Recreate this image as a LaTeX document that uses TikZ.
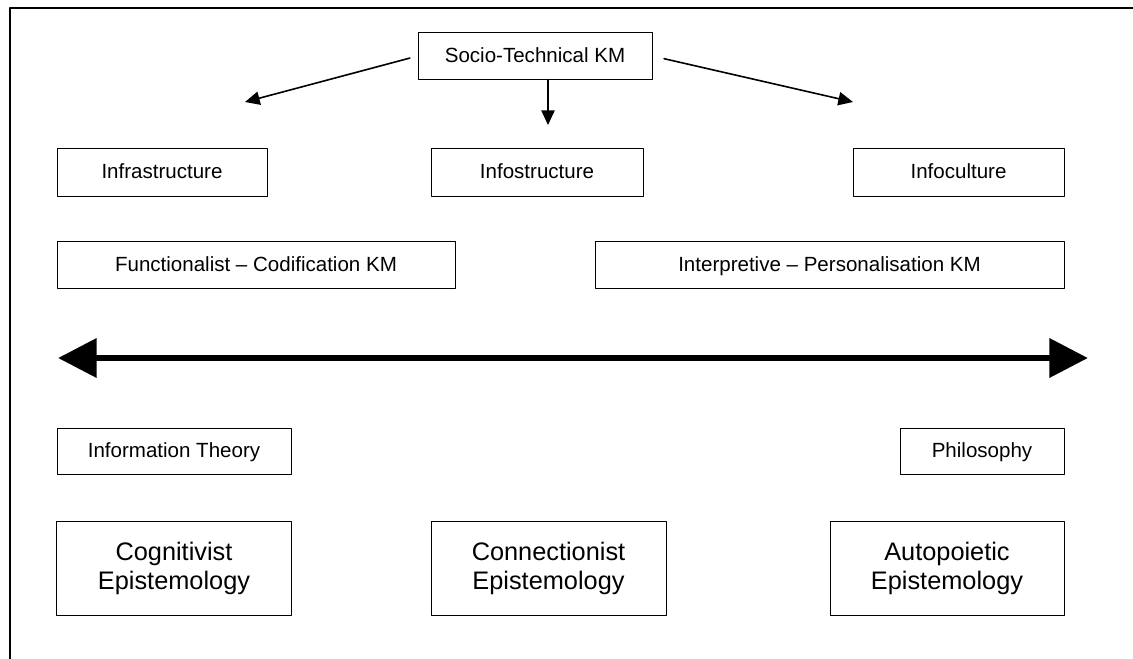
\documentclass[tikz,border=0pt]{standalone}
\usepackage{fontspec}
\setmainfont{Liberation Sans}
\usepackage{tikz}
\usetikzlibrary{arrows.meta}

\tikzset{
  smallbox/.style={draw,line width=0.6pt,inner sep=0pt,minimum height=35pt,text height=11pt,text depth=2pt,font=\fontsize{15.4}{18}\selectfont},
  bigbox/.style={draw,line width=0.6pt,inner sep=0pt,minimum height=70pt,align=center,font=\fontsize{19}{21.5}\selectfont},
  thinarrow/.style={line width=1.2pt,-{Triangle[length=11pt,width=10pt]}}
}

\begin{document}
\begin{tikzpicture}[line cap=round,line join=round,x=0.75pt,y=-0.75pt]
      \useasboundingbox (0,0) rectangle (1133,658);
      % frame
      \draw[line width=1.8pt,line cap=butt] (10,660) -- (10,8) -- (1135,8);
      % top level
      \node[smallbox,minimum width=175.5pt] (stkm) at (535,56) {Socio-Technical KM};
      \coordinate (lt) at (245,102);
      \coordinate (rt) at (853,102);
      \coordinate (dn) at (548,125);
      \draw[thinarrow,shorten <=6pt] (stkm.west) -- (lt);
      \draw[thinarrow,shorten <=9pt] (stkm.east) -- (rt);
      \draw[thinarrow] (stkm.south -| dn) -- (dn);
      % infra / info
      \node[smallbox,minimum width=157.5pt,minimum height=36pt] (infra) at (162,172) {Infrastructure};
      \node[smallbox,minimum width=159pt,minimum height=36pt] (infos) at (537,172) {Infostructure};
      \node[smallbox,minimum width=158.25pt,minimum height=36pt] (infoc) at (958.5,172) {Infoculture};
      \node[smallbox,minimum width=298.5pt] (func) at (256,265) {Functionalist -- Codification KM};
      \node[smallbox,minimum width=351.75pt] (interp) at (829.5,265) {Interpretive -- Personalisation KM};
      % continuum
      \coordinate (lend) at (58,358);
      \coordinate (rend) at (1088,358);
      \draw[line width=5.2pt,line cap=butt,{Triangle[length=29pt,width=28.5pt]}-{Triangle[length=29pt,width=28.5pt]}] (lend) -- (rend);
      % lower level
      \node[smallbox,minimum width=175.5pt] (infth) at (174,451.5) {Information Theory};
      \node[smallbox,minimum width=123pt] (phil) at (982,451.5) {Philosophy};
      \node[bigbox,minimum width=176.25pt] (cogn) at (174,568.5) {Cognitivist\\Epistemology};
      \node[bigbox,minimum width=176.25pt] (conn) at (548.5,568.5) {Connectionist\\Epistemology};
      \node[bigbox,minimum width=175.5pt] (auto) at (947,568.5) {Autopoietic\\Epistemology};
\end{tikzpicture}
\end{document}
